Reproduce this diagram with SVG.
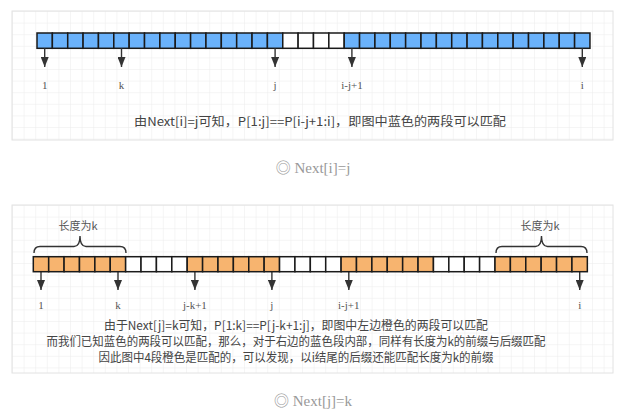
<svg xmlns="http://www.w3.org/2000/svg" width="624" height="418" viewBox="0 0 624 418">
<style>
.cb{fill:#6AB2FB;stroke:#1a1a1a;stroke-width:1.5}
.co{fill:#F7B46F;stroke:#1a1a1a;stroke-width:1.5}
.cw{fill:#ffffff;stroke:#1a1a1a;stroke-width:1.5}
.ar{stroke:#333;stroke-width:1.4;fill:none}
.lb{font-family:"Liberation Serif","Noto Sans CJK SC",serif;font-size:11px;fill:#555;text-anchor:middle}
.tx{font-family:"Noto Sans CJK SC",sans-serif;font-size:12px;fill:#444;text-anchor:middle}
.br{font-family:"Noto Sans CJK SC",sans-serif;font-size:11px;fill:#555;text-anchor:middle}
.cap{font-family:"Liberation Serif","Noto Sans CJK SC",serif;font-size:15px;fill:#999;text-anchor:middle}
.brace{stroke:#333;stroke-width:1.4;fill:none}
</style>
<defs>
<pattern id="g1" x="12" y="11" width="11.6" height="11.6" patternUnits="userSpaceOnUse">
<path d="M0 0H11.6M0 0V11.6" stroke="#ececec" stroke-width="1" fill="none"/>
</pattern>
<pattern id="g2" x="12" y="205" width="11.6" height="11.6" patternUnits="userSpaceOnUse">
<path d="M0 0H11.6M0 0V11.6" stroke="#ececec" stroke-width="1" fill="none"/>
</pattern>
<marker id="m" viewBox="0 0 10 8" refX="10" refY="4" markerWidth="10" markerHeight="8" markerUnits="userSpaceOnUse" orient="auto">
<path d="M0 0L10 4L0 8Z" fill="#333"/>
</marker>
</defs>
<rect x="0" y="0" width="624" height="418" fill="#fff"/>
<g id="panel-top">
<rect x="12" y="11" width="601" height="129" fill="url(#g1)" stroke="#e2e2e2"/>
</g>
<g id="panel-bottom">
<rect x="12" y="205" width="601" height="168" fill="url(#g2)" stroke="#e2e2e2"/>
</g>
<g id="bar-top">
<rect class="cb" x="37.00" y="33" width="15.36" height="15.3"/>
<rect class="cb" x="52.36" y="33" width="15.36" height="15.3"/>
<rect class="cb" x="67.72" y="33" width="15.36" height="15.3"/>
<rect class="cb" x="83.08" y="33" width="15.36" height="15.3"/>
<rect class="cb" x="98.44" y="33" width="15.36" height="15.3"/>
<rect class="cb" x="113.80" y="33" width="15.36" height="15.3"/>
<rect class="cb" x="129.16" y="33" width="15.36" height="15.3"/>
<rect class="cb" x="144.52" y="33" width="15.36" height="15.3"/>
<rect class="cb" x="159.88" y="33" width="15.36" height="15.3"/>
<rect class="cb" x="175.24" y="33" width="15.36" height="15.3"/>
<rect class="cb" x="190.60" y="33" width="15.36" height="15.3"/>
<rect class="cb" x="205.96" y="33" width="15.36" height="15.3"/>
<rect class="cb" x="221.32" y="33" width="15.36" height="15.3"/>
<rect class="cb" x="236.68" y="33" width="15.36" height="15.3"/>
<rect class="cb" x="252.04" y="33" width="15.36" height="15.3"/>
<rect class="cb" x="267.40" y="33" width="15.36" height="15.3"/>
<rect class="cw" x="282.76" y="33" width="15.36" height="15.3"/>
<rect class="cw" x="298.12" y="33" width="15.36" height="15.3"/>
<rect class="cw" x="313.48" y="33" width="15.36" height="15.3"/>
<rect class="cw" x="328.84" y="33" width="15.36" height="15.3"/>
<rect class="cb" x="344.20" y="33" width="15.36" height="15.3"/>
<rect class="cb" x="359.56" y="33" width="15.36" height="15.3"/>
<rect class="cb" x="374.92" y="33" width="15.36" height="15.3"/>
<rect class="cb" x="390.28" y="33" width="15.36" height="15.3"/>
<rect class="cb" x="405.64" y="33" width="15.36" height="15.3"/>
<rect class="cb" x="421.00" y="33" width="15.36" height="15.3"/>
<rect class="cb" x="436.36" y="33" width="15.36" height="15.3"/>
<rect class="cb" x="451.72" y="33" width="15.36" height="15.3"/>
<rect class="cb" x="467.08" y="33" width="15.36" height="15.3"/>
<rect class="cb" x="482.44" y="33" width="15.36" height="15.3"/>
<rect class="cb" x="497.80" y="33" width="15.36" height="15.3"/>
<rect class="cb" x="513.16" y="33" width="15.36" height="15.3"/>
<rect class="cb" x="528.52" y="33" width="15.36" height="15.3"/>
<rect class="cb" x="543.88" y="33" width="15.36" height="15.3"/>
<rect class="cb" x="559.24" y="33" width="15.36" height="15.3"/>
<rect class="cb" x="574.60" y="33" width="15.36" height="15.3"/>
</g>
<g id="connectors">
<line class="ar" x1="44.7" y1="48.3" x2="44.7" y2="67" marker-end="url(#m)"/>
<line class="ar" x1="121.5" y1="48.3" x2="121.5" y2="67" marker-end="url(#m)"/>
<line class="ar" x1="275.1" y1="48.3" x2="275.1" y2="67" marker-end="url(#m)"/>
<line class="ar" x1="351.9" y1="48.3" x2="351.9" y2="67" marker-end="url(#m)"/>
<line class="ar" x1="582.3" y1="48.3" x2="582.3" y2="67" marker-end="url(#m)"/>
<line class="ar" x1="41.0" y1="271.7" x2="41.0" y2="290" marker-end="url(#m)"/>
<line class="ar" x1="118.0" y1="271.7" x2="118.0" y2="290" marker-end="url(#m)"/>
<line class="ar" x1="194.9" y1="271.7" x2="194.9" y2="290" marker-end="url(#m)"/>
<line class="ar" x1="271.9" y1="271.7" x2="271.9" y2="290" marker-end="url(#m)"/>
<line class="ar" x1="348.8" y1="271.7" x2="348.8" y2="290" marker-end="url(#m)"/>
<line class="ar" x1="579.7" y1="271.7" x2="579.7" y2="290" marker-end="url(#m)"/>
</g>
<g id="labels-top">
<text class="lb" x="44.7" y="89">1</text>
<text class="lb" x="121.5" y="89">k</text>
<text class="lb" x="275.1" y="89">j</text>
<text class="lb" x="351.9" y="89">i-j+1</text>
<text class="lb" x="582.3" y="89">i</text>
</g>
<g id="caption-top">
<text class="tx" x="320" y="126" textLength="372" lengthAdjust="spacingAndGlyphs">由Next[i]=j可知，P[1:j]==P[i-j+1:i]，即图中蓝色的两段可以匹配</text>
</g>
<g id="title-top">
<text class="cap" x="313" y="173">◎ Next[i]=j</text>
</g>
<g id="brace-left">
<path class="brace" d="M34 253Q34 246.5 40 246.5L74 246.5Q80 246.5 80 236Q80 246.5 86 246.5L120 246.5Q126 246.5 126 253"/>
<text class="br" x="78" y="230">长度为k</text>
</g>
<g id="brace-right">
<path class="brace" d="M496 253Q496 246.5 502 246.5L535.5 246.5Q541.5 246.5 541.5 236Q541.5 246.5 547.5 246.5L581 246.5Q587 246.5 587 253"/>
<text class="br" x="540" y="230">长度为k</text>
</g>
<g id="bar-bottom">
<rect class="co" x="33.30" y="256.7" width="15.39" height="15"/>
<rect class="co" x="48.69" y="256.7" width="15.39" height="15"/>
<rect class="co" x="64.08" y="256.7" width="15.39" height="15"/>
<rect class="co" x="79.47" y="256.7" width="15.39" height="15"/>
<rect class="co" x="94.86" y="256.7" width="15.39" height="15"/>
<rect class="co" x="110.25" y="256.7" width="15.39" height="15"/>
<rect class="cw" x="125.64" y="256.7" width="15.39" height="15"/>
<rect class="cw" x="141.03" y="256.7" width="15.39" height="15"/>
<rect class="cw" x="156.42" y="256.7" width="15.39" height="15"/>
<rect class="cw" x="171.81" y="256.7" width="15.39" height="15"/>
<rect class="co" x="187.20" y="256.7" width="15.39" height="15"/>
<rect class="co" x="202.59" y="256.7" width="15.39" height="15"/>
<rect class="co" x="217.98" y="256.7" width="15.39" height="15"/>
<rect class="co" x="233.37" y="256.7" width="15.39" height="15"/>
<rect class="co" x="248.76" y="256.7" width="15.39" height="15"/>
<rect class="co" x="264.15" y="256.7" width="15.39" height="15"/>
<rect class="cw" x="279.54" y="256.7" width="15.39" height="15"/>
<rect class="cw" x="294.93" y="256.7" width="15.39" height="15"/>
<rect class="cw" x="310.32" y="256.7" width="15.39" height="15"/>
<rect class="cw" x="325.71" y="256.7" width="15.39" height="15"/>
<rect class="co" x="341.10" y="256.7" width="15.39" height="15"/>
<rect class="co" x="356.49" y="256.7" width="15.39" height="15"/>
<rect class="co" x="371.88" y="256.7" width="15.39" height="15"/>
<rect class="co" x="387.27" y="256.7" width="15.39" height="15"/>
<rect class="co" x="402.66" y="256.7" width="15.39" height="15"/>
<rect class="co" x="418.05" y="256.7" width="15.39" height="15"/>
<rect class="cw" x="433.44" y="256.7" width="15.39" height="15"/>
<rect class="cw" x="448.83" y="256.7" width="15.39" height="15"/>
<rect class="cw" x="464.22" y="256.7" width="15.39" height="15"/>
<rect class="cw" x="479.61" y="256.7" width="15.39" height="15"/>
<rect class="co" x="495.00" y="256.7" width="15.39" height="15"/>
<rect class="co" x="510.39" y="256.7" width="15.39" height="15"/>
<rect class="co" x="525.78" y="256.7" width="15.39" height="15"/>
<rect class="co" x="541.17" y="256.7" width="15.39" height="15"/>
<rect class="co" x="556.56" y="256.7" width="15.39" height="15"/>
<rect class="co" x="571.95" y="256.7" width="15.39" height="15"/>
</g>
<g id="labels-bottom">
<text class="lb" x="41.0" y="309">1</text>
<text class="lb" x="118.0" y="309">k</text>
<text class="lb" x="194.9" y="309">j-k+1</text>
<text class="lb" x="271.9" y="309">j</text>
<text class="lb" x="348.8" y="309">i-j+1</text>
<text class="lb" x="579.7" y="309">i</text>
</g>
<g id="caption-bottom">
<text class="tx" x="296" y="330" textLength="384" lengthAdjust="spacingAndGlyphs">由于Next[j]=k可知，P[1:k]==P[j-k+1:j]，即图中左边橙色的两段可以匹配</text>
<text class="tx" x="296" y="346" textLength="499" lengthAdjust="spacingAndGlyphs">而我们已知蓝色的两段可以匹配，那么，对于右边的蓝色段内部，同样有长度为k的前缀与后缀匹配</text>
<text class="tx" x="296" y="362" textLength="395" lengthAdjust="spacingAndGlyphs">因此图中4段橙色是匹配的，可以发现，以i结尾的后缀还能匹配长度为k的前缀</text>
</g>
<g id="title-bottom">
<text class="cap" x="313" y="406">◎ Next[j]=k</text>
</g>
</svg>
